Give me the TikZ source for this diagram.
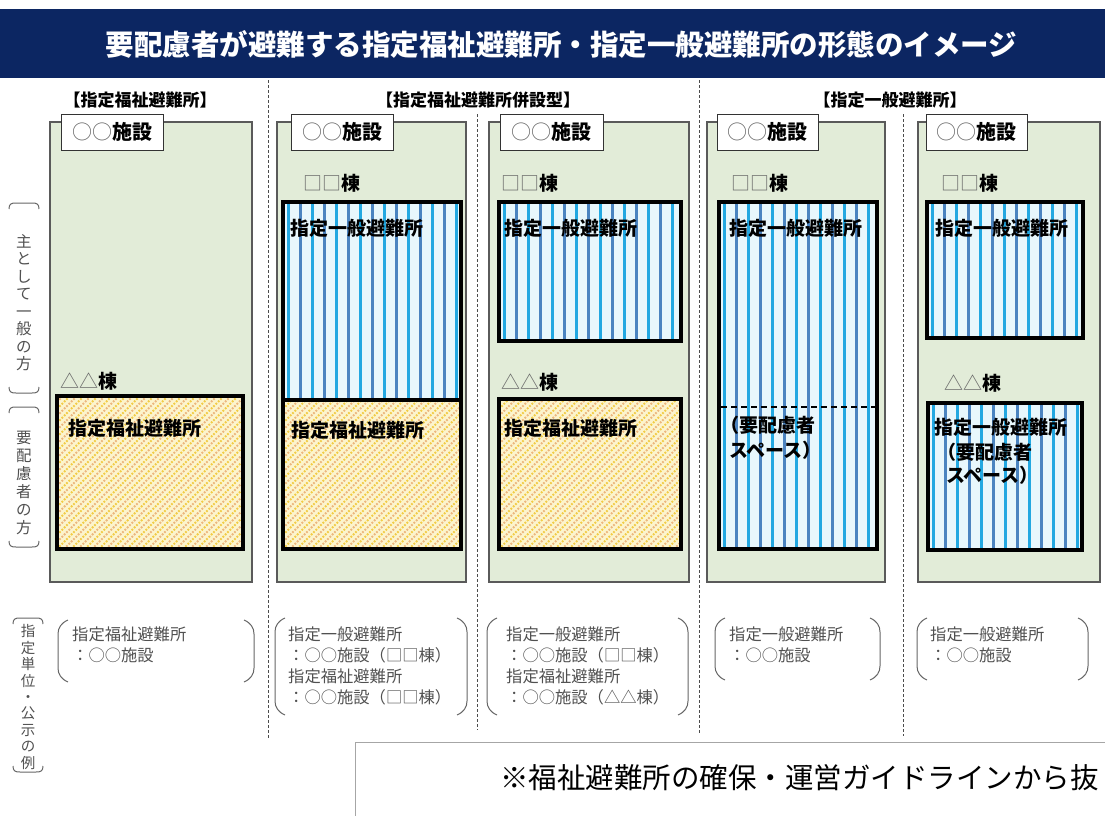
\documentclass[tikz,border=0pt]{standalone}
\usepackage{fontspec}
\setmainfont{Noto Sans CJK JP}
\definecolor{navy}{RGB}{12,38,98}
\definecolor{colgreen}{RGB}{226,236,216}
\definecolor{colborder}{RGB}{90,90,90}
\definecolor{stripebg}{RGB}{232,247,252}
\definecolor{stripeA}{RGB}{35,168,225}
\definecolor{stripeB}{RGB}{75,132,192}
\definecolor{fukubg}{RGB}{252,244,205}
\definecolor{hatchA}{RGB}{242,204,70}
\definecolor{hatchB}{RGB}{236,182,125}
\definecolor{labgray}{RGB}{80,80,80}
\newcommand\lite[1]{{\mdseries\color{black!60}#1}}
\begin{document}
\begin{tikzpicture}[x=1pt,y=-1pt,
  col/.style={draw=colborder, line width=1.2pt, fill=colgreen, inner sep=0pt, outer sep=0pt},
  lbl/.style={draw=black!80, line width=1pt, fill=white, inner sep=0pt, minimum height=36pt, font=\fontsize{20}{22}\selectfont\bfseries},
  ippan/.style={draw=black, line width=3.5pt, fill=stripebg, inner sep=0pt, outer sep=0pt,
    path picture={
      \foreach \k in {0,...,7}{
        \draw[line width=3pt, draw=stripeA] ([xshift=\k*24pt+5pt]path picture bounding box.north west) -- ([xshift=\k*24pt+5pt]path picture bounding box.south west);
        \draw[line width=3pt, draw=stripeB] ([xshift=\k*24pt+17pt]path picture bounding box.north west) -- ([xshift=\k*24pt+17pt]path picture bounding box.south west);
      }}},
  fuku/.style={draw=black, line width=3.5pt, fill=fukubg, inner sep=0pt, outer sep=0pt,
    path picture={
      \foreach \k in {-13,...,15}{
        \draw[line width=1.8pt, draw=hatchA, dash pattern=on 1.8pt off 1.5pt] ([xshift=\k*14pt]path picture bounding box.south west) -- ++(200pt,200pt);
        \draw[line width=1.8pt, draw=hatchB, dash pattern=on 1.8pt off 1.5pt] ([xshift=\k*14pt+7pt]path picture bounding box.south west) -- ++(200pt,200pt);
      }}},
  boxtxt/.style={anchor=west, inner sep=0pt, font=\fontsize{19}{22}\selectfont\bfseries},
  head/.style={inner sep=0pt, font=\fontsize{17}{19}\selectfont\bfseries},
  vlab/.style={align=center, inner sep=0pt, text=labgray},
  ex/.style={anchor=north west, align=left, inner sep=0pt, font=\fontsize{16.3}{20.7}\selectfont, text=labgray},
  sepline/.style={dash pattern=on 3pt off 2pt, line width=0.8pt, draw=black!70},
  paren/.style={draw=black!60, line width=1pt},
  brk/.style={draw=black!60, line width=1pt}
]
\useasboundingbox (0,0) rectangle (1105,816);
\clip (0,0) rectangle (1105,816);

% title
\node[fill=navy, minimum width=1105pt, minimum height=69pt, inner sep=0pt] (bar) at (552.5,43.5) {};
\node[text=white, inner sep=0pt, font=\fontsize{28.5}{31}\selectfont\bfseries] (title) at (561.5,44) {要配慮者が避難する指定福祉避難所・指定一般避難所の形態のイメージ};

% section headers
\node[head] (h1) at (140,100) {【指定福祉避難所】};
\node[head] (h2) at (478,100) {【指定福祉避難所併設型】};
\node[head] (h3) at (890,100) {【指定一般避難所】};

% separators
\coordinate (s1a) at (268,80);  \coordinate (s1b) at (268,738);
\coordinate (s2a) at (477,114); \coordinate (s2b) at (477,730);
\coordinate (s3a) at (699,80);  \coordinate (s3b) at (699,734);
\coordinate (s4a) at (903,114); \coordinate (s4b) at (903,736);
\draw[sepline] (s1a) -- (s1b);
\draw[sepline] (s2a) -- (s2b);
\draw[sepline] (s3a) -- (s3b);
\draw[sepline] (s4a) -- (s4b);

% columns
\node[col, minimum width=202pt, minimum height=460pt] (c1) at (151,352) {};
\node[col, minimum width=189pt, minimum height=460pt] (c2) at (371.5,352) {};
\node[col, minimum width=200pt, minimum height=460pt] (c3) at (589,352) {};
\node[col, minimum width=178pt, minimum height=460pt] (c4) at (796,352) {};
\node[col, minimum width=182pt, minimum height=460pt] (c5) at (1009,352) {};

% facility labels
\node[lbl, minimum width=102pt] (l1) at (112,132) {\lite{○○}施設};
\node[lbl, minimum width=102pt] (l2) at (342,132) {\lite{○○}施設};
\node[lbl, minimum width=103pt] (l3) at (551.5,132) {\lite{○○}施設};
\node[lbl, minimum width=101pt] (l4) at (767.5,132) {\lite{○○}施設};
\node[lbl, minimum width=101pt] (l5) at (976.5,132) {\lite{○○}施設};

% building labels
\node[boxtxt] (s2) at (303,183) {\lite{□□}棟};
\node[boxtxt] (s3) at (501,183) {\lite{□□}棟};
\node[boxtxt] (s4) at (731,183) {\lite{□□}棟};
\node[boxtxt] (s5) at (941,183) {\lite{□□}棟};
\node[boxtxt] (a1) at (60,381) {\lite{△△}棟};
\node[boxtxt] (a3) at (501,382) {\lite{△△}棟};
\node[boxtxt] (a5) at (944,383) {\lite{△△}棟};

% general shelters (striped)
\node[ippan, minimum width=178pt, minimum height=198pt] (b2) at (372,301) {};
\node[ippan, minimum width=182pt, minimum height=139pt] (b3) at (590,271.5) {};
\node[ippan, minimum width=158pt, minimum height=347pt] (b4) at (798,375.5) {};
\node[ippan, minimum width=156pt, minimum height=136pt] (b5) at (1005,270) {};
\node[ippan, minimum width=154pt, minimum height=147pt] (b5b) at (1005,476.5) {};

% welfare shelters (hatched)
\node[fuku, minimum width=186pt, minimum height=153pt] (f1) at (150,472.5) {};
\node[fuku, minimum width=178pt, minimum height=149pt] (f2) at (372,474.5) {};
\node[fuku, minimum width=182pt, minimum height=150pt] (f3) at (590,474) {};

% dashed division in b4
\coordinate (d4a) at (721,407);
\coordinate (d4b) at (875,407);
\draw[black, line width=1.5pt, dash pattern=on 6pt off 4pt] (d4a) -- (d4b);

% box texts
\node[boxtxt] (tb2) at (290,228) {指定一般避難所};
\node[boxtxt] (tb3) at (504,228) {指定一般避難所};
\node[boxtxt] (tb4) at (729,228) {指定一般避難所};
\node[boxtxt] (tb5) at (935,228) {指定一般避難所};
\node[boxtxt] (tf1) at (68,428) {指定福祉避難所};
\node[boxtxt] (tf2) at (291,430) {指定福祉避難所};
\node[boxtxt] (tf3) at (504,428) {指定福祉避難所};
\node[boxtxt] (tb4s1) at (720,425) {（要配慮者};
\node[boxtxt] (tb4s2) at (729,450) {スペース）};
\node[boxtxt] (tb5b1) at (934,427) {指定一般避難所};
\node[boxtxt] (tb5b2) at (937,452) {（要配慮者};
\node[boxtxt] (tb5b3) at (946,475) {スペース）};

% left vertical labels
\node[vlab, font=\fontsize{15.5}{17.5}\selectfont] (g1) at (24,302.5) {主\\と\\し\\て\\一\\般\\の\\方};
\node[vlab, font=\fontsize{15.5}{18}\selectfont] (g2) at (24,482.5) {要\\配\\慮\\者\\の\\方};
\node[vlab, font=\fontsize{14.5}{16.4}\selectfont] (g3) at (28,697) {指\\定\\単\\位\\・\\公\\示\\の\\例};

% left brackets
\draw[brk] (9,209) .. controls (9,204) and (11,203) .. (16,203) -- (32,203) .. controls (37,203) and (39,204) .. (39,209);
\draw[brk] (9,387) .. controls (9,392) and (11,393) .. (16,393) -- (32,393) .. controls (37,393) and (39,392) .. (39,387);
\draw[brk] (9,413) .. controls (9,408) and (11,407) .. (16,407) -- (32,407) .. controls (37,407) and (39,408) .. (39,413);
\draw[brk] (9,541) .. controls (9,546) and (11,547) .. (16,547) -- (32,547) .. controls (37,547) and (39,546) .. (39,541);
\draw[brk] (13,624) .. controls (13,619) and (15,618) .. (20,618) -- (36,618) .. controls (41,618) and (43,619) .. (43,624);
\draw[brk] (13,766) .. controls (13,771) and (15,772) .. (20,772) -- (36,772) .. controls (41,772) and (43,771) .. (43,766);

% example texts
\node[ex] (e1) at (72,627) {指定福祉避難所\\：○○施設};
\node[ex] (e2) at (288,627) {指定一般避難所\\：○○施設（□□棟）\\指定福祉避難所\\：○○施設（□□棟）};
\node[ex] (e3) at (506,627) {指定一般避難所\\：○○施設（□□棟）\\指定福祉避難所\\：○○施設（△△棟）};
\node[ex] (e4) at (729,627) {指定一般避難所\\：○○施設};
\node[ex] (e5) at (930,627) {指定一般避難所\\：○○施設};

% parentheses
\draw[paren] (68,620) .. controls (61,623) and (58,628) .. (58,634) -- (58,668) .. controls (58,674) and (61,679) .. (68,682);
\draw[paren] (244,620) .. controls (251,623) and (254,628) .. (254,634) -- (254,668) .. controls (254,674) and (251,679) .. (244,682);
\draw[paren] (285,618) .. controls (278,621) and (275,626) .. (275,632) -- (275,701) .. controls (275,707) and (278,712) .. (285,715);
\draw[paren] (457,618) .. controls (464,621) and (467,626) .. (467,632) -- (467,701) .. controls (467,707) and (464,712) .. (457,715);
\draw[paren] (497,618) .. controls (490,621) and (487,626) .. (487,632) -- (487,701) .. controls (487,707) and (490,712) .. (497,715);
\draw[paren] (678,618) .. controls (685,621) and (688,626) .. (688,632) -- (688,701) .. controls (688,707) and (685,712) .. (678,715);
\draw[paren] (725,618) .. controls (718,621) and (715,626) .. (715,632) -- (715,666) .. controls (715,672) and (718,677) .. (725,680);
\draw[paren] (870,618) .. controls (877,621) and (880,626) .. (880,632) -- (880,666) .. controls (880,672) and (877,677) .. (870,680);
\draw[paren] (927,618) .. controls (920,621) and (917,626) .. (917,632) -- (917,666) .. controls (917,672) and (920,677) .. (927,680);
\draw[paren] (1078,618) .. controls (1085,621) and (1088,626) .. (1088,632) -- (1088,666) .. controls (1088,672) and (1085,677) .. (1078,680);

% footnote box
\node[draw=black!35, line width=1pt, fill=white, minimum width=770pt, minimum height=90pt, inner sep=0pt] (foot) at (740,787) {};
\node[anchor=west, inner sep=0pt, font=\fontsize{28.5}{32}\selectfont] (foottxt) at (500,778) {※福祉避難所の確保・運営ガイドラインから抜};
\end{tikzpicture}
\end{document}
